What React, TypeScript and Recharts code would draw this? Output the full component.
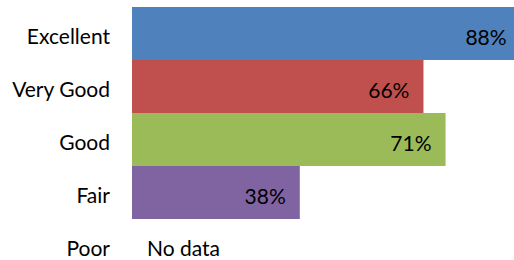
import { BarChart, Bar, XAxis, YAxis, Cell } from "recharts";

const categories = ["Excellent", "Very Good", "Good", "Fair", "Poor"];
const percents: (number | null)[] = [88, 66, 71, 38, null];
const COLORS = ["#4F81BD", "#C0504D", "#9BBB59", "#8064A2", "#4BACC6"];

const data = categories.map((name, i) => ({ name, value: percents[i] }));

const FONT = "Lato, 'Open Sans', sans-serif";

const CategoryTick = (props: any) => {
    const { y, payload, index } = props;
    const v = percents[index];
    return (
        <g>
            <text x={110} y={y} dy={2} textAnchor="end" dominantBaseline="central" fontSize={21} fontFamily={FONT} fill="#000">
                {payload.value}
            </text>
            {v == null && (
                <text x={147} y={y} dy={2} textAnchor="start" dominantBaseline="central" fontSize={21} fontFamily={FONT} fill="#000">
                    No data
                </text>
            )}
        </g>
    );
};

const ValueLabel = (props: any) => {
    const { x, y, width, height, value } = props;
    if (value == null) return null;
    return (
        <text x={x + width - 14} y={y + height / 2} dy={3} textAnchor="end" dominantBaseline="central" fontSize={21} fontFamily={FONT} fill="#000">
            {value}%
        </text>
    );
};

export default function App() {
    return (
        <div style={{ position: "absolute", left: 0, top: 0, width: 514, height: 260, overflow: "hidden", background: "#fff" }}>
            <BarChart
                layout="vertical"
                width={514}
                height={272}
                data={data}
                margin={{ top: 7, right: 0, bottom: 0, left: 0 }}
                barCategoryGap={0}
            >
                <XAxis type="number" domain={[0, 86.5]} allowDataOverflow hide />
                <YAxis
                    type="category"
                    dataKey="name"
                    width={132}
                    axisLine={false}
                    tickLine={false}
                    interval={0}
                    tick={<CategoryTick />}
                />
                <Bar dataKey="value" isAnimationActive={false} label={<ValueLabel />}>
                    {data.map((_, i) => (
                        <Cell key={i} fill={COLORS[i]} />
                    ))}
                </Bar>
            </BarChart>
        </div>
    );
}
